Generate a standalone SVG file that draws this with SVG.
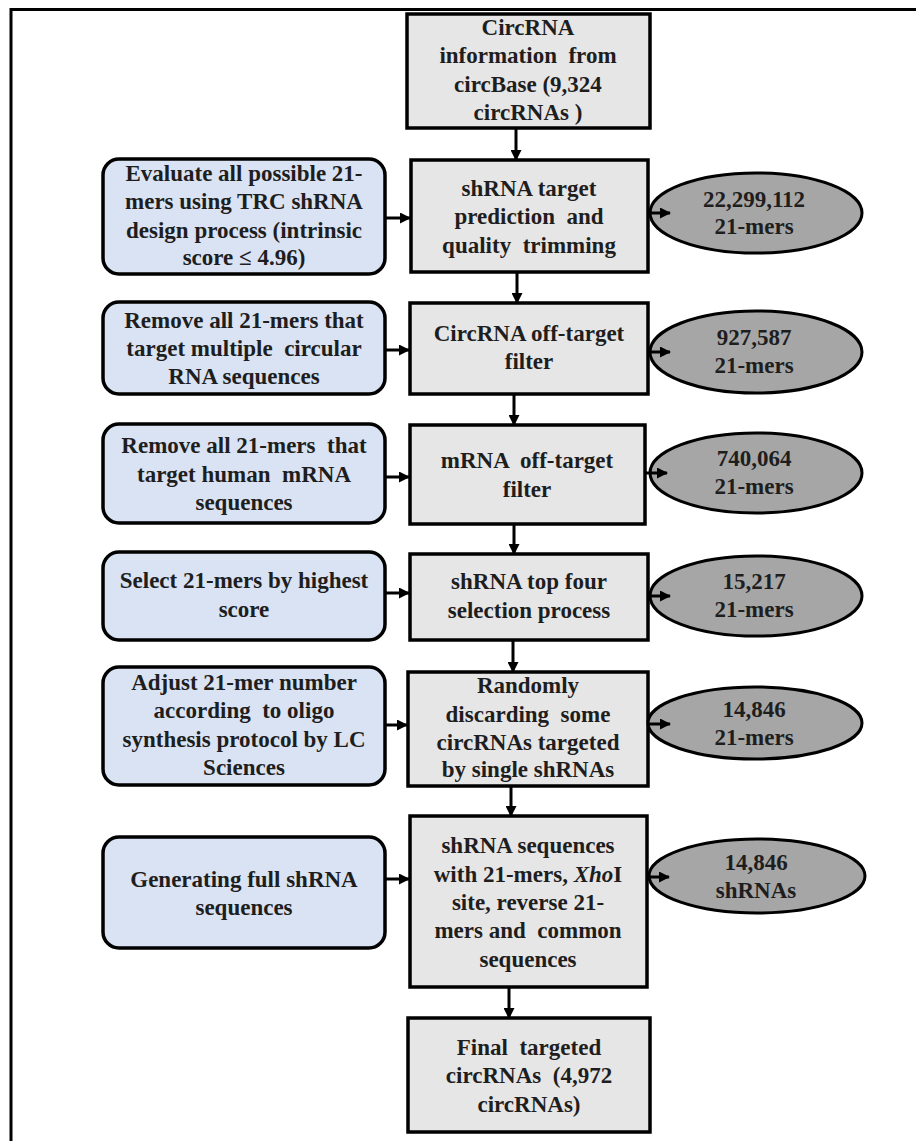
<svg xmlns="http://www.w3.org/2000/svg" width="916" height="1141" viewBox="0 0 916 1141">
<defs>
<marker id="ah" markerWidth="11" markerHeight="11" refX="10" refY="5.5" orient="auto" markerUnits="userSpaceOnUse">
<path d="M0,0 L11,5.5 L0,11 z" fill="#000"/>
</marker>
<style>
.g{fill:#e7e6e6;stroke:#000;stroke-width:3.5}
.b{fill:#dae3f3;stroke:#000;stroke-width:3.5}
.e{fill:#a6a6a6;stroke:#000;stroke-width:3}
text{font-family:"Liberation Serif","Times New Roman",serif;font-weight:bold;font-size:23px;fill:#1e1e1e;text-anchor:middle}
.c line{stroke:#000;stroke-width:3;marker-end:url(#ah)}
</style>
</defs>
<rect width="916" height="1141" fill="#fff"/>
<path d="M11,1141 L11,9.5 L916,9.5" fill="none" stroke="#000" stroke-width="3"/>

<g id="box1"><rect class="g" x="407" y="14" width="243" height="114"/>
<text x="528" y="35">CircRNA</text><text x="528" y="63" xml:space="preserve">information  from</text><text x="528" y="92">circBase (9,324</text><text x="528" y="120">circRNAs )</text></g>
<g id="box2"><rect class="g" x="411" y="160" width="237" height="112"/>
<text x="529" y="196">shRNA target</text><text x="529" y="224" xml:space="preserve">prediction  and</text><text x="529" y="253" xml:space="preserve">quality  trimming</text></g>
<g id="box3"><rect class="g" x="410" y="303" width="238" height="91"/>
<text x="529" y="341">CircRNA off-target</text><text x="529" y="369">filter</text></g>
<g id="box4"><rect class="g" x="410" y="425" width="235" height="99"/>
<text x="527" y="468" xml:space="preserve">mRNA  off-target</text><text x="527" y="497">filter</text></g>
<g id="box5"><rect class="g" x="410" y="554" width="238" height="86"/>
<text x="529" y="589">shRNA top four</text><text x="529" y="618">selection process</text></g>
<g id="box6"><rect class="g" x="408" y="672" width="240" height="114"/>
<text x="528" y="693">Randomly</text><text x="528" y="722" xml:space="preserve">discarding  some</text><text x="528" y="750">circRNAs targeted</text><text x="528" y="777">by single shRNAs</text></g>
<g id="box7"><rect class="g" x="410" y="816" width="237" height="171"/>
<text x="528" y="853">shRNA sequences</text><text x="528" y="882">with 21-mers, <tspan font-style="italic">Xho</tspan>I</text><text x="528" y="910">site, reverse 21-</text><text x="528" y="938" xml:space="preserve">mers and  common</text><text x="528" y="967">sequences</text></g>
<g id="box8"><rect class="g" x="408" y="1018" width="242" height="114"/>
<text x="529" y="1055" xml:space="preserve">Final  targeted</text><text x="529" y="1083" xml:space="preserve">circRNAs  (4,972</text><text x="529" y="1112">circRNAs)</text></g>

<g id="note1"><rect class="b" x="103" y="159" width="282" height="115" rx="16"/>
<text x="244" y="181">Evaluate all possible 21-</text><text x="244" y="209">mers using TRC shRNA</text><text x="244" y="238">design process (intrinsic</text><text x="244" y="265">score ≤ 4.96)</text></g>
<g id="note2"><rect class="b" x="103" y="302" width="282" height="92" rx="16"/>
<text x="244" y="328">Remove all 21-mers that</text><text x="244" y="356" xml:space="preserve">target multiple  circular</text><text x="244" y="384">RNA sequences</text></g>
<g id="note3"><rect class="b" x="103" y="424" width="282" height="99" rx="16"/>
<text x="244" y="453" xml:space="preserve">Remove all 21-mers  that</text><text x="244" y="482" xml:space="preserve">target human  mRNA</text><text x="244" y="510">sequences</text></g>
<g id="note4"><rect class="b" x="103" y="552" width="282" height="88" rx="16"/>
<text x="244" y="588">Select 21-mers by highest</text><text x="244" y="617">score</text></g>
<g id="note5"><rect class="b" x="103" y="667" width="282" height="118" rx="16"/>
<text x="244" y="690">Adjust 21-mer number</text><text x="244" y="718" xml:space="preserve">according  to oligo</text><text x="244" y="747">synthesis protocol by LC</text><text x="244" y="775">Sciences</text></g>
<g id="note6"><rect class="b" x="103" y="837" width="282" height="111" rx="16"/>
<text x="244" y="887">Generating full shRNA</text><text x="244" y="915">sequences</text></g>

<g id="out1"><ellipse class="e" cx="756" cy="213" rx="106" ry="40"/><text x="754" y="207">22,299,112</text><text x="754" y="234">21-mers</text></g>
<g id="out2"><ellipse class="e" cx="756" cy="352" rx="106" ry="41"/><text x="754" y="345">927,587</text><text x="754" y="373">21-mers</text></g>
<g id="out3"><ellipse class="e" cx="756" cy="473" rx="106" ry="40"/><text x="754" y="466">740,064</text><text x="754" y="494">21-mers</text></g>
<g id="out4"><ellipse class="e" cx="756" cy="596" rx="106" ry="40"/><text x="754" y="589">15,217</text><text x="754" y="617">21-mers</text></g>
<g id="out5"><ellipse class="e" cx="755" cy="723" rx="107" ry="36"/><text x="754" y="717">14,846</text><text x="754" y="745">21-mers</text></g>
<g id="out6"><ellipse class="e" cx="757" cy="876" rx="108" ry="37"/><text x="756" y="870">14,846</text><text x="756" y="898">shRNAs</text></g>

<g id="connectors" class="c">
<line x1="516" y1="128" x2="516" y2="160"/>
<line x1="517" y1="272" x2="517" y2="303"/>
<line x1="514" y1="394" x2="514" y2="425"/>
<line x1="514" y1="524" x2="514" y2="554"/>
<line x1="513" y1="640" x2="513" y2="672"/>
<line x1="511" y1="786" x2="511" y2="816"/>
<line x1="509" y1="987" x2="509" y2="1018"/>
<line x1="385" y1="218" x2="410" y2="218"/>
<line x1="385" y1="350" x2="409" y2="350"/>
<line x1="385" y1="477" x2="409" y2="477"/>
<line x1="385" y1="593" x2="409" y2="593"/>
<line x1="385" y1="725" x2="407" y2="725"/>
<line x1="385" y1="879" x2="409" y2="879"/>
<line x1="648" y1="213" x2="670" y2="213"/>
<line x1="648" y1="352" x2="670" y2="352"/>
<line x1="645" y1="473" x2="667" y2="473"/>
<line x1="648" y1="596" x2="670" y2="596"/>
<line x1="648" y1="724" x2="670" y2="724"/>
<line x1="647" y1="877" x2="669" y2="877"/>
</g>
</svg>
